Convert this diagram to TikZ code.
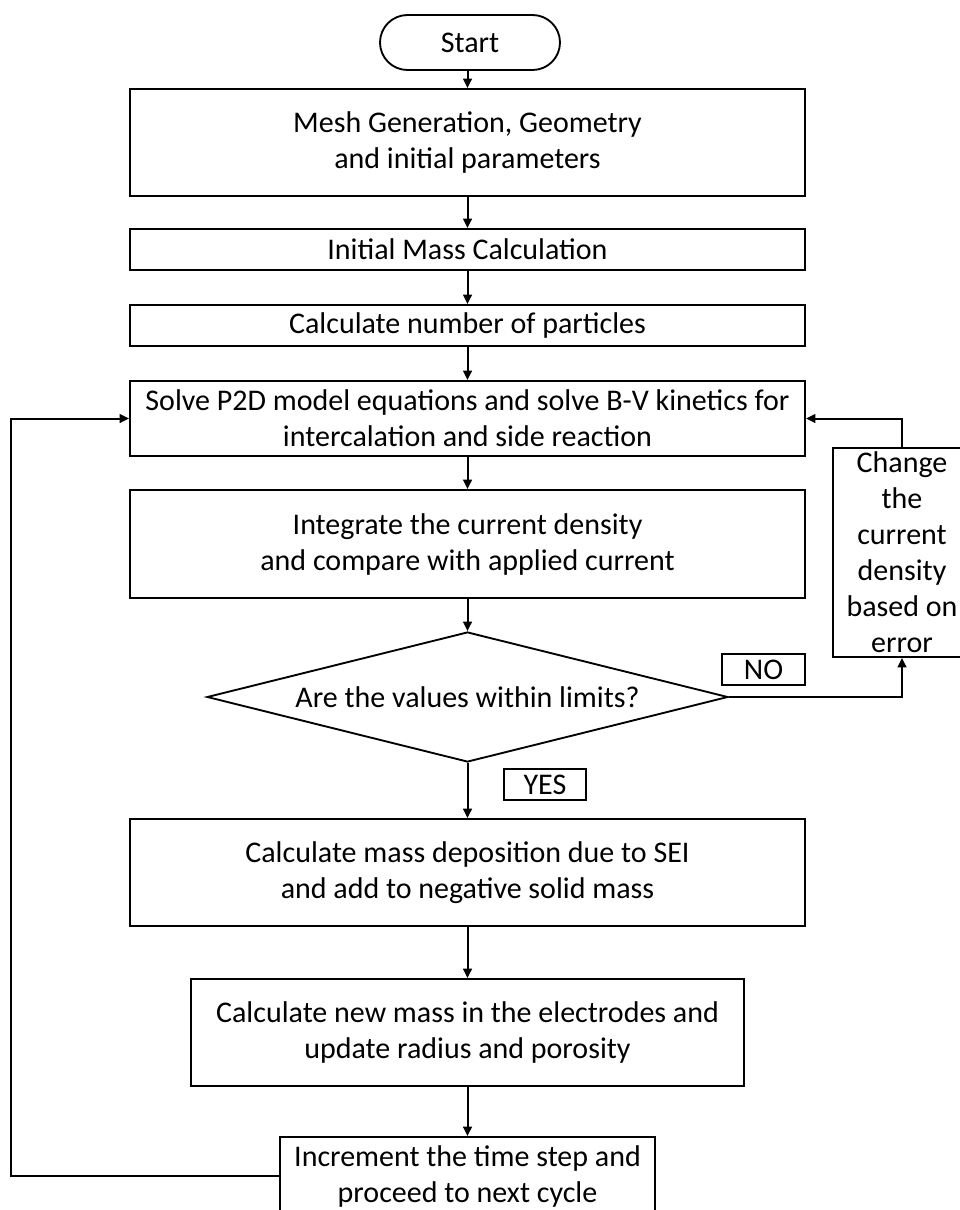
\documentclass[tikz,border=0pt]{standalone}
\usepackage{fontspec}
\setmainfont{Carlito}
\usetikzlibrary{shapes.geometric,shapes.misc,arrows.meta}
\begin{document}
\begin{tikzpicture}[x=0.75pt,y=-0.75pt,
  every node/.style={font=\fontsize{22.5}{27}\selectfont},
  box/.style={draw, line width=1.4pt, rectangle, inner sep=0pt, align=center},
  tag/.style={draw, line width=1.2pt, rectangle, inner sep=0pt, align=center},
  arr/.style={line width=1.5pt, -{Triangle[length=7pt,width=6.5pt]}},
]
\useasboundingbox (0,0) rectangle (960,1210);

\node[box, rounded rectangle, minimum width=180*0.75pt, minimum height=55*0.75pt] (start) at (470,42.5) {Start};
\node[box, minimum width=675*0.75pt, minimum height=107*0.75pt] (b1) at (467.5,142.5) {Mesh Generation, Geometry\\and initial parameters};
\node[box, minimum width=675*0.75pt, minimum height=41*0.75pt] (b2) at (467.5,249.5) {Initial Mass Calculation};
\node[box, minimum width=675*0.75pt, minimum height=41*0.75pt] (b3) at (467.5,325.5) {Calculate number of particles};
\node[box, minimum width=675*0.75pt, minimum height=75*0.75pt] (b4) at (467.5,418.5) {Solve P2D model equations and solve B-V kinetics for\\intercalation and side reaction};
\node[box, minimum width=675*0.75pt, minimum height=108*0.75pt] (b5) at (467.5,544) {Integrate the current density\\and compare with applied current};
\node[draw, diamond, shape aspect=4, line width=1.4pt, inner sep=0pt, minimum width=521*0.75pt, minimum height=130*0.75pt] (dia) at (467.5,697) {Are the values within limits?};
\node[tag, minimum width=83*0.75pt, minimum height=31*0.75pt] (no) at (763.5,669.5) {NO};
\node[tag, minimum width=82*0.75pt, minimum height=31*0.75pt] (yes) at (545,784.5) {YES};
\node[box, minimum width=138*0.75pt, minimum height=209*0.75pt] (chg) at (902,552.5) {Change\\the\\current\\density\\based on\\error};
\node[box, minimum width=675*0.75pt, minimum height=107*0.75pt] (b6) at (467.5,872.5) {Calculate mass deposition due to SEI\\and add to negative solid mass};
\node[box, minimum width=553*0.75pt, minimum height=107*0.75pt] (b7) at (467.5,1032.5) {Calculate new mass in the electrodes and\\update radius and porosity};
\node[box, minimum width=375*0.75pt, minimum height=78*0.75pt] (b8) at (467.5,1176) {Increment the time step and\\proceed to next cycle};

\draw[arr] (start.south -| b1.north) -- (b1.north);
\draw[arr] (b1) -- (b2);
\draw[arr] (b2) -- (b3);
\draw[arr] (b3) -- (b4);
\draw[arr] (b4) -- (b5);
\draw[arr] (b5) -- (dia);
\draw[arr] (dia) -- (b6);
\draw[arr] (b6) -- (b7);
\draw[arr] (b7) -- (b8);
\draw[arr] (dia.east) -| (chg.south);
\draw[arr] (chg.north) |- (b4.east);
\draw[arr] (b8.west) -- ++(-268,0) |- (b4.west);
\end{tikzpicture}
\end{document}
